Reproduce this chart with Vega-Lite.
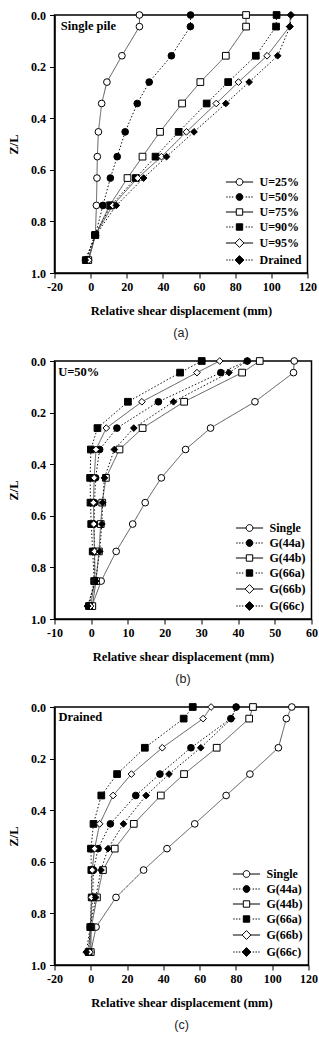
{
"$schema": "https://vega.github.io/schema/vega-lite/v6.json",
"background": "white",
"padding": {"top": 8, "left": 6.5, "right": 0, "bottom": 5},
"spacing": 14,
"datasets": {
"a": [
{"s":"U=25%","z":0,"d":27.0},{"s":"U=25%","z":0.045,"d":27.0},{"s":"U=25%","z":0.158,"d":17.3},{"s":"U=25%","z":0.26,"d":9.0},{"s":"U=25%","z":0.343,"d":6.1},{"s":"U=25%","z":0.453,"d":4.3},{"s":"U=25%","z":0.549,"d":3.7},{"s":"U=25%","z":0.632,"d":3.5},{"s":"U=25%","z":0.738,"d":3.2},{"s":"U=25%","z":0.853,"d":2.6},{"s":"U=25%","z":0.95,"d":-1.5},
{"s":"U=50%","z":0,"d":55.3},{"s":"U=50%","z":0.045,"d":55.2},{"s":"U=50%","z":0.158,"d":44.7},{"s":"U=50%","z":0.26,"d":32.4},{"s":"U=50%","z":0.343,"d":25.8},{"s":"U=50%","z":0.453,"d":19.1},{"s":"U=50%","z":0.549,"d":14.7},{"s":"U=50%","z":0.632,"d":10.9},{"s":"U=50%","z":0.738,"d":6.8},{"s":"U=50%","z":0.853,"d":2.6},{"s":"U=50%","z":0.95,"d":-2.4},
{"s":"U=75%","z":0,"d":86.0},{"s":"U=75%","z":0.045,"d":86.0},{"s":"U=75%","z":0.158,"d":74.8},{"s":"U=75%","z":0.26,"d":60.7},{"s":"U=75%","z":0.343,"d":50.6},{"s":"U=75%","z":0.453,"d":38.4},{"s":"U=75%","z":0.549,"d":28.7},{"s":"U=75%","z":0.632,"d":20.4},{"s":"U=75%","z":0.738,"d":10.5},{"s":"U=75%","z":0.853,"d":2.6},{"s":"U=75%","z":0.95,"d":-1.3},
{"s":"U=90%","z":0,"d":102.9},{"s":"U=90%","z":0.045,"d":102.6},{"s":"U=90%","z":0.158,"d":91.4},{"s":"U=90%","z":0.26,"d":76.1},{"s":"U=90%","z":0.343,"d":64.2},{"s":"U=90%","z":0.453,"d":48.7},{"s":"U=90%","z":0.549,"d":35.9},{"s":"U=90%","z":0.632,"d":25.0},{"s":"U=90%","z":0.738,"d":11.2},{"s":"U=90%","z":0.853,"d":2.4},{"s":"U=90%","z":0.95,"d":-2.7},
{"s":"U=95%","z":0,"d":110.6},{"s":"U=95%","z":0.045,"d":110.1},{"s":"U=95%","z":0.158,"d":97.6},{"s":"U=95%","z":0.26,"d":81.8},{"s":"U=95%","z":0.343,"d":69.5},{"s":"U=95%","z":0.453,"d":53.0},{"s":"U=95%","z":0.549,"d":39.2},{"s":"U=95%","z":0.632,"d":26.0},{"s":"U=95%","z":0.738,"d":12.2},{"s":"U=95%","z":0.853,"d":2.6},{"s":"U=95%","z":0.95,"d":-1.0},
{"s":"Drained","z":0,"d":111.0},{"s":"Drained","z":0.045,"d":110.3},{"s":"Drained","z":0.158,"d":103.5},{"s":"Drained","z":0.26,"d":87.7},{"s":"Drained","z":0.343,"d":74.8},{"s":"Drained","z":0.453,"d":57.2},{"s":"Drained","z":0.549,"d":42.0},{"s":"Drained","z":0.632,"d":29.3},{"s":"Drained","z":0.738,"d":14.2},{"s":"Drained","z":0.853,"d":2.8},{"s":"Drained","z":0.95,"d":-3.0}
],
"b": [
{"s":"Single","z":0,"d":55.3},{"s":"Single","z":0.045,"d":55.1},{"s":"Single","z":0.158,"d":44.6},{"s":"Single","z":0.26,"d":32.5},{"s":"Single","z":0.343,"d":25.7},{"s":"Single","z":0.453,"d":19.1},{"s":"Single","z":0.549,"d":14.7},{"s":"Single","z":0.632,"d":11.3},{"s":"Single","z":0.738,"d":6.8},{"s":"Single","z":0.853,"d":2.7},{"s":"Single","z":0.95,"d":0.2},
{"s":"G(44a)","z":0,"d":42.5},{"s":"G(44a)","z":0.045,"d":35.3},{"s":"G(44a)","z":0.158,"d":18.3},{"s":"G(44a)","z":0.26,"d":7.0},{"s":"G(44a)","z":0.343,"d":2.3},{"s":"G(44a)","z":0.453,"d":1.2},{"s":"G(44a)","z":0.549,"d":0.9},{"s":"G(44a)","z":0.632,"d":0.8},{"s":"G(44a)","z":0.738,"d":0.9},{"s":"G(44a)","z":0.853,"d":1.0},{"s":"G(44a)","z":0.95,"d":-0.8},
{"s":"G(44b)","z":0,"d":45.9},{"s":"G(44b)","z":0.045,"d":41.1},{"s":"G(44b)","z":0.158,"d":25.3},{"s":"G(44b)","z":0.26,"d":14.0},{"s":"G(44b)","z":0.343,"d":7.7},{"s":"G(44b)","z":0.453,"d":4.0},{"s":"G(44b)","z":0.549,"d":3.0},{"s":"G(44b)","z":0.632,"d":2.6},{"s":"G(44b)","z":0.738,"d":2.1},{"s":"G(44b)","z":0.853,"d":1.3},{"s":"G(44b)","z":0.95,"d":0.3},
{"s":"G(66a)","z":0,"d":30.1},{"s":"G(66a)","z":0.045,"d":24.2},{"s":"G(66a)","z":0.158,"d":10.0},{"s":"G(66a)","z":0.26,"d":1.7},{"s":"G(66a)","z":0.343,"d":-0.1},{"s":"G(66a)","z":0.453,"d":-0.3},{"s":"G(66a)","z":0.549,"d":-0.2},{"s":"G(66a)","z":0.632,"d":0.0},{"s":"G(66a)","z":0.738,"d":0.4},{"s":"G(66a)","z":0.853,"d":0.8},{"s":"G(66a)","z":0.95,"d":-0.6},
{"s":"G(66b)","z":0,"d":35.0},{"s":"G(66b)","z":0.045,"d":28.8},{"s":"G(66b)","z":0.158,"d":13.8},{"s":"G(66b)","z":0.26,"d":4.1},{"s":"G(66b)","z":0.343,"d":1.3},{"s":"G(66b)","z":0.453,"d":0.8},{"s":"G(66b)","z":0.549,"d":0.6},{"s":"G(66b)","z":0.632,"d":0.7},{"s":"G(66b)","z":0.738,"d":0.9},{"s":"G(66b)","z":0.853,"d":1.0},{"s":"G(66b)","z":0.95,"d":-0.2},
{"s":"G(66c)","z":0,"d":42.6},{"s":"G(66c)","z":0.045,"d":37.5},{"s":"G(66c)","z":0.158,"d":22.4},{"s":"G(66c)","z":0.26,"d":11.6},{"s":"G(66c)","z":0.343,"d":6.3},{"s":"G(66c)","z":0.453,"d":3.6},{"s":"G(66c)","z":0.549,"d":3.1},{"s":"G(66c)","z":0.632,"d":2.9},{"s":"G(66c)","z":0.738,"d":2.3},{"s":"G(66c)","z":0.853,"d":1.2},{"s":"G(66c)","z":0.95,"d":-1.0}
],
"c": [
{"s":"Single","z":0,"d":110.8},{"s":"Single","z":0.045,"d":107.8},{"s":"Single","z":0.158,"d":103.4},{"s":"Single","z":0.26,"d":87.7},{"s":"Single","z":0.343,"d":74.6},{"s":"Single","z":0.453,"d":57.3},{"s":"Single","z":0.549,"d":42.0},{"s":"Single","z":0.632,"d":29.1},{"s":"Single","z":0.738,"d":13.9},{"s":"Single","z":0.853,"d":2.9},{"s":"Single","z":0.95,"d":0.0},
{"s":"G(44a)","z":0,"d":80.1},{"s":"G(44a)","z":0.045,"d":77.2},{"s":"G(44a)","z":0.158,"d":55.2},{"s":"G(44a)","z":0.26,"d":38.1},{"s":"G(44a)","z":0.343,"d":24.8},{"s":"G(44a)","z":0.453,"d":10.8},{"s":"G(44a)","z":0.549,"d":4.0},{"s":"G(44a)","z":0.632,"d":1.5},{"s":"G(44a)","z":0.738,"d":1.0},{"s":"G(44a)","z":0.853,"d":0.0},{"s":"G(44a)","z":0.95,"d":-1.5},
{"s":"G(44b)","z":0,"d":89.4},{"s":"G(44b)","z":0.045,"d":87.3},{"s":"G(44b)","z":0.158,"d":69.4},{"s":"G(44b)","z":0.26,"d":51.4},{"s":"G(44b)","z":0.343,"d":38.6},{"s":"G(44b)","z":0.453,"d":23.7},{"s":"G(44b)","z":0.549,"d":13.2},{"s":"G(44b)","z":0.632,"d":6.7},{"s":"G(44b)","z":0.738,"d":3.4},{"s":"G(44b)","z":0.853,"d":0.3},{"s":"G(44b)","z":0.95,"d":0.0},
{"s":"G(66a)","z":0,"d":56.2},{"s":"G(66a)","z":0.045,"d":51.2},{"s":"G(66a)","z":0.158,"d":29.8},{"s":"G(66a)","z":0.26,"d":14.5},{"s":"G(66a)","z":0.343,"d":5.8},{"s":"G(66a)","z":0.453,"d":1.5},{"s":"G(66a)","z":0.549,"d":0.1},{"s":"G(66a)","z":0.632,"d":0.3},{"s":"G(66a)","z":0.738,"d":0.5},{"s":"G(66a)","z":0.853,"d":-0.3},{"s":"G(66a)","z":0.95,"d":-1.2},
{"s":"G(66b)","z":0,"d":66.3},{"s":"G(66b)","z":0.045,"d":61.9},{"s":"G(66b)","z":0.158,"d":39.4},{"s":"G(66b)","z":0.26,"d":22.4},{"s":"G(66b)","z":0.343,"d":12.3},{"s":"G(66b)","z":0.453,"d":4.9},{"s":"G(66b)","z":0.549,"d":2.1},{"s":"G(66b)","z":0.632,"d":0.8},{"s":"G(66b)","z":0.738,"d":0.3},{"s":"G(66b)","z":0.853,"d":0.0},{"s":"G(66b)","z":0.95,"d":-0.5},
{"s":"G(66c)","z":0,"d":80.3},{"s":"G(66c)","z":0.045,"d":77.5},{"s":"G(66c)","z":0.158,"d":60.6},{"s":"G(66c)","z":0.26,"d":43.1},{"s":"G(66c)","z":0.343,"d":30.5},{"s":"G(66c)","z":0.453,"d":18.0},{"s":"G(66c)","z":0.549,"d":9.5},{"s":"G(66c)","z":0.632,"d":5.6},{"s":"G(66c)","z":0.738,"d":2.7},{"s":"G(66c)","z":0.853,"d":-0.3},{"s":"G(66c)","z":0.95,"d":-2.5}
]
},
"resolve": {"scale": {"shape": "independent", "fill": "independent", "stroke": "independent", "strokeDash": "independent"}},
"vconcat": [
{
"width": 253, "height": 258,
"data": {"name": "a"},
"title": {"text": "(a)"},
"resolve": {"scale": {"shape": "independent", "fill": "independent", "stroke": "independent"}},
"layer": [
{"mark": {"type": "line", "strokeWidth": 1},
 "encoding": {
  "x": {"field": "d", "type": "quantitative", "scale": {"domain": [-20, 120], "nice": false, "zero": false}, "axis": {"values": [-20, 0, 20, 40, 60, 80, 100, 120], "tickCount": 20, "labelExpr": "'' + datum.value", "labelOverlap": false, "labelFlush": false, "title": "Relative shear displacement (mm)"}},
  "y": {"field": "z", "type": "quantitative", "scale": {"domain": [0, 1], "reverse": true, "nice": false, "zero": false}, "axis": {"values": [0, 0.2, 0.4, 0.6, 0.8, 1], "tickCount": 20, "format": ".1f", "labelOverlap": false, "labelFlush": false, "title": "Z/L"}},
  "order": {"field": "z", "type": "quantitative"},
  "detail": {"field": "s", "type": "nominal"},
  "strokeDash": {"field": "s", "type": "nominal", "scale": {"domain": ["U=25%", "U=50%", "U=75%", "U=90%", "U=95%", "Drained"], "range": [[1, 0], [1.5, 2], [1, 0], [1.5, 2], [1, 0], [1.5, 2]]}, "legend": null},
  "stroke": {"field": "s", "type": "nominal", "scale": {"domain": ["U=25%", "U=50%", "U=75%", "U=90%", "U=95%", "Drained"], "range": ["#555", "#111", "#555", "#111", "#555", "#111"]}, "legend": null}
 }},
{"mark": {"type": "point", "stroke": "black", "strokeWidth": 1, "size": 45, "opacity": 1},
 "encoding": {
  "x": {"field": "d", "type": "quantitative"},
  "y": {"field": "z", "type": "quantitative"},
  "shape": {"field": "s", "type": "nominal", "scale": {"domain": ["U=25%", "U=50%", "U=75%", "U=90%", "U=95%", "Drained"], "range": ["circle", "circle", "square", "square", "diamond", "diamond"]}, "legend": null},
  "fill": {"field": "s", "type": "nominal", "scale": {"domain": ["U=25%", "U=50%", "U=75%", "U=90%", "U=95%", "Drained"], "range": ["white", "black", "white", "black", "white", "black"]}, "legend": null}
 }},
{"data": {"values": []},
 "mark": {"type": "point", "strokeWidth": 1, "opacity": 1},
 "encoding": {
  "shape": {"field": "s", "type": "nominal", "scale": {"domain": ["U=25%", "U=50%", "U=75%", "U=90%", "U=95%", "Drained"], "range": [
    "M-3.4,0H-0.85M0.85,0H3.4M-0.85,0A0.85,0.85,0,1,1,0.85,0A0.85,0.85,0,1,1,-0.85,0Z",
    "M-3.3,0h0.35M-2.6,0h0.35M-1.9,0h0.35M1.55,0h0.35M2.25,0h0.35M2.95,0h0.35M-0.85,0A0.85,0.85,0,1,1,0.85,0A0.85,0.85,0,1,1,-0.85,0Z",
    "M-3.4,0H-0.8M0.8,0H3.4M-0.8,-0.8H0.8V0.8H-0.8Z",
    "M-3.3,0h0.35M-2.6,0h0.35M-1.9,0h0.35M1.55,0h0.35M2.25,0h0.35M2.95,0h0.35M-0.8,-0.8H0.8V0.8H-0.8Z",
    "M-3.4,0H-1.1M1.1,0H3.4M0,-1.1L1.1,0L0,1.1L-1.1,0Z",
    "M-3.3,0h0.35M-2.6,0h0.35M-1.9,0h0.35M1.55,0h0.35M2.25,0h0.35M2.95,0h0.35M0,-1.1L1.1,0L0,1.1L-1.1,0Z"]}, "legend": {"title": null}},
  "fill": {"field": "s", "type": "nominal", "scale": {"domain": ["U=25%", "U=50%", "U=75%", "U=90%", "U=95%", "Drained"], "range": ["white", "black", "white", "black", "white", "black"]}, "legend": {"title": null}},
  "stroke": {"field": "s", "type": "nominal", "scale": {"domain": ["U=25%", "U=50%", "U=75%", "U=90%", "U=95%", "Drained"], "range": ["black", "black", "black", "black", "black", "black"]}, "legend": {"title": null}}
 }},
{"data": {"values": [{"t": "Single pile"}]},
 "mark": {"type": "text", "align": "left", "baseline": "middle", "font": "Liberation Serif", "fontWeight": "bold", "fontSize": 12.5, "color": "black"},
 "encoding": {"x": {"datum": -16.5}, "y": {"datum": 0.044}, "text": {"field": "t"}}}
]
},
{
"width": 257, "height": 258,
"data": {"name": "b"},
"title": {"text": "(b)"},
"resolve": {"scale": {"shape": "independent", "fill": "independent", "stroke": "independent"}},
"layer": [
{"mark": {"type": "line", "strokeWidth": 1},
 "encoding": {
  "x": {"field": "d", "type": "quantitative", "scale": {"domain": [-10, 60], "nice": false, "zero": false}, "axis": {"values": [-10, 0, 10, 20, 30, 40, 50, 60], "tickCount": 20, "labelExpr": "'' + datum.value", "labelOverlap": false, "labelFlush": false, "title": "Relative shear displacement (mm)"}},
  "y": {"field": "z", "type": "quantitative", "scale": {"domain": [0, 1], "reverse": true, "nice": false, "zero": false}, "axis": {"values": [0, 0.2, 0.4, 0.6, 0.8, 1], "tickCount": 20, "format": ".1f", "labelOverlap": false, "labelFlush": false, "title": "Z/L"}},
  "order": {"field": "z", "type": "quantitative"},
  "detail": {"field": "s", "type": "nominal"},
  "strokeDash": {"field": "s", "type": "nominal", "scale": {"domain": ["Single", "G(44a)", "G(44b)", "G(66a)", "G(66b)", "G(66c)"], "range": [[1, 0], [1.5, 2], [1, 0], [1.5, 2], [1, 0], [1.5, 2]]}, "legend": null},
  "stroke": {"field": "s", "type": "nominal", "scale": {"domain": ["Single", "G(44a)", "G(44b)", "G(66a)", "G(66b)", "G(66c)"], "range": ["#555", "#111", "#555", "#111", "#555", "#111"]}, "legend": null}
 }},
{"mark": {"type": "point", "stroke": "black", "strokeWidth": 1, "size": 45, "opacity": 1},
 "encoding": {
  "x": {"field": "d", "type": "quantitative"},
  "y": {"field": "z", "type": "quantitative"},
  "shape": {"field": "s", "type": "nominal", "scale": {"domain": ["Single", "G(44a)", "G(44b)", "G(66a)", "G(66b)", "G(66c)"], "range": ["circle", "circle", "square", "square", "diamond", "diamond"]}, "legend": null},
  "fill": {"field": "s", "type": "nominal", "scale": {"domain": ["Single", "G(44a)", "G(44b)", "G(66a)", "G(66b)", "G(66c)"], "range": ["white", "black", "white", "black", "white", "black"]}, "legend": null}
 }},
{"data": {"values": []},
 "mark": {"type": "point", "strokeWidth": 1, "opacity": 1},
 "encoding": {
  "shape": {"field": "s", "type": "nominal", "scale": {"domain": ["Single", "G(44a)", "G(44b)", "G(66a)", "G(66b)", "G(66c)"], "range": [
    "M-3.4,0H-0.85M0.85,0H3.4M-0.85,0A0.85,0.85,0,1,1,0.85,0A0.85,0.85,0,1,1,-0.85,0Z",
    "M-3.3,0h0.35M-2.6,0h0.35M-1.9,0h0.35M1.55,0h0.35M2.25,0h0.35M2.95,0h0.35M-0.85,0A0.85,0.85,0,1,1,0.85,0A0.85,0.85,0,1,1,-0.85,0Z",
    "M-3.4,0H-0.8M0.8,0H3.4M-0.8,-0.8H0.8V0.8H-0.8Z",
    "M-3.3,0h0.35M-2.6,0h0.35M-1.9,0h0.35M1.55,0h0.35M2.25,0h0.35M2.95,0h0.35M-0.8,-0.8H0.8V0.8H-0.8Z",
    "M-3.4,0H-1.1M1.1,0H3.4M0,-1.1L1.1,0L0,1.1L-1.1,0Z",
    "M-3.3,0h0.35M-2.6,0h0.35M-1.9,0h0.35M1.55,0h0.35M2.25,0h0.35M2.95,0h0.35M0,-1.1L1.1,0L0,1.1L-1.1,0Z"]}, "legend": {"title": null}},
  "fill": {"field": "s", "type": "nominal", "scale": {"domain": ["Single", "G(44a)", "G(44b)", "G(66a)", "G(66b)", "G(66c)"], "range": ["white", "black", "white", "black", "white", "black"]}, "legend": {"title": null}},
  "stroke": {"field": "s", "type": "nominal", "scale": {"domain": ["Single", "G(44a)", "G(44b)", "G(66a)", "G(66b)", "G(66c)"], "range": ["black", "black", "black", "black", "black", "black"]}, "legend": {"title": null}}
 }},
{"data": {"values": [{"t": "U=50%"}]},
 "mark": {"type": "text", "align": "left", "baseline": "middle", "font": "Liberation Serif", "fontWeight": "bold", "fontSize": 12.5, "color": "black"},
 "encoding": {"x": {"datum": -9.0}, "y": {"datum": 0.043}, "text": {"field": "t"}}}
]
},
{
"width": 254, "height": 258,
"data": {"name": "c"},
"title": {"text": "(c)"},
"resolve": {"scale": {"shape": "independent", "fill": "independent", "stroke": "independent"}},
"layer": [
{"mark": {"type": "line", "strokeWidth": 1},
 "encoding": {
  "x": {"field": "d", "type": "quantitative", "scale": {"domain": [-20, 120], "nice": false, "zero": false}, "axis": {"values": [-20, 0, 20, 40, 60, 80, 100, 120], "tickCount": 20, "labelExpr": "'' + datum.value", "labelOverlap": false, "labelFlush": false, "title": "Relative shear displacement (mm)"}},
  "y": {"field": "z", "type": "quantitative", "scale": {"domain": [0, 1], "reverse": true, "nice": false, "zero": false}, "axis": {"values": [0, 0.2, 0.4, 0.6, 0.8, 1], "tickCount": 20, "format": ".1f", "labelOverlap": false, "labelFlush": false, "title": "Z/L"}},
  "order": {"field": "z", "type": "quantitative"},
  "detail": {"field": "s", "type": "nominal"},
  "strokeDash": {"field": "s", "type": "nominal", "scale": {"domain": ["Single", "G(44a)", "G(44b)", "G(66a)", "G(66b)", "G(66c)"], "range": [[1, 0], [1.5, 2], [1, 0], [1.5, 2], [1, 0], [1.5, 2]]}, "legend": null},
  "stroke": {"field": "s", "type": "nominal", "scale": {"domain": ["Single", "G(44a)", "G(44b)", "G(66a)", "G(66b)", "G(66c)"], "range": ["#555", "#111", "#555", "#111", "#555", "#111"]}, "legend": null}
 }},
{"mark": {"type": "point", "stroke": "black", "strokeWidth": 1, "size": 45, "opacity": 1},
 "encoding": {
  "x": {"field": "d", "type": "quantitative"},
  "y": {"field": "z", "type": "quantitative"},
  "shape": {"field": "s", "type": "nominal", "scale": {"domain": ["Single", "G(44a)", "G(44b)", "G(66a)", "G(66b)", "G(66c)"], "range": ["circle", "circle", "square", "square", "diamond", "diamond"]}, "legend": null},
  "fill": {"field": "s", "type": "nominal", "scale": {"domain": ["Single", "G(44a)", "G(44b)", "G(66a)", "G(66b)", "G(66c)"], "range": ["white", "black", "white", "black", "white", "black"]}, "legend": null}
 }},
{"data": {"values": []},
 "mark": {"type": "point", "strokeWidth": 1, "opacity": 1},
 "encoding": {
  "shape": {"field": "s", "type": "nominal", "scale": {"domain": ["Single", "G(44a)", "G(44b)", "G(66a)", "G(66b)", "G(66c)"], "range": [
    "M-3.4,0H-0.85M0.85,0H3.4M-0.85,0A0.85,0.85,0,1,1,0.85,0A0.85,0.85,0,1,1,-0.85,0Z",
    "M-3.3,0h0.35M-2.6,0h0.35M-1.9,0h0.35M1.55,0h0.35M2.25,0h0.35M2.95,0h0.35M-0.85,0A0.85,0.85,0,1,1,0.85,0A0.85,0.85,0,1,1,-0.85,0Z",
    "M-3.4,0H-0.8M0.8,0H3.4M-0.8,-0.8H0.8V0.8H-0.8Z",
    "M-3.3,0h0.35M-2.6,0h0.35M-1.9,0h0.35M1.55,0h0.35M2.25,0h0.35M2.95,0h0.35M-0.8,-0.8H0.8V0.8H-0.8Z",
    "M-3.4,0H-1.1M1.1,0H3.4M0,-1.1L1.1,0L0,1.1L-1.1,0Z",
    "M-3.3,0h0.35M-2.6,0h0.35M-1.9,0h0.35M1.55,0h0.35M2.25,0h0.35M2.95,0h0.35M0,-1.1L1.1,0L0,1.1L-1.1,0Z"]}, "legend": {"title": null}},
  "fill": {"field": "s", "type": "nominal", "scale": {"domain": ["Single", "G(44a)", "G(44b)", "G(66a)", "G(66b)", "G(66c)"], "range": ["white", "black", "white", "black", "white", "black"]}, "legend": {"title": null}},
  "stroke": {"field": "s", "type": "nominal", "scale": {"domain": ["Single", "G(44a)", "G(44b)", "G(66a)", "G(66b)", "G(66c)"], "range": ["black", "black", "black", "black", "black", "black"]}, "legend": {"title": null}}
 }},
{"data": {"values": [{"t": "Drained"}]},
 "mark": {"type": "text", "align": "left", "baseline": "middle", "font": "Liberation Serif", "fontWeight": "bold", "fontSize": 12.5, "color": "black"},
 "encoding": {"x": {"datum": -17.8}, "y": {"datum": 0.039}, "text": {"field": "t"}}}
]
}
],
"config": {
 "font": "Liberation Serif",
 "view": {"stroke": "black", "strokeWidth": 1.5},
 "axis": {"labelFont": "Liberation Serif", "labelFontWeight": "bold", "labelFontSize": 12, "labelColor": "black", "titleFont": "Liberation Serif", "titleFontWeight": "bold", "titleFontSize": 12.5, "titleColor": "black", "tickColor": "black", "tickSize": 5, "tickWidth": 1, "domainColor": "black", "domainWidth": 1.5, "grid": false, "labelPadding": 3},
 "axisX": {"titlePadding": 12},
 "axisY": {"titlePadding": 10, "labelPadding": 4},
 "legend": {"orient": "bottom-right", "offset": 6, "padding": 0, "labelFont": "Liberation Serif", "labelFontWeight": "bold", "labelFontSize": 12, "labelColor": "black", "symbolSize": 64, "symbolStrokeWidth": 1, "rowPadding": 3, "labelOffset": 14},
 "title": {"orient": "bottom", "anchor": "middle", "frame": "group", "font": "Liberation Sans", "fontSize": 12.5, "fontWeight": "normal", "color": "#222", "offset": 10}
}
}
